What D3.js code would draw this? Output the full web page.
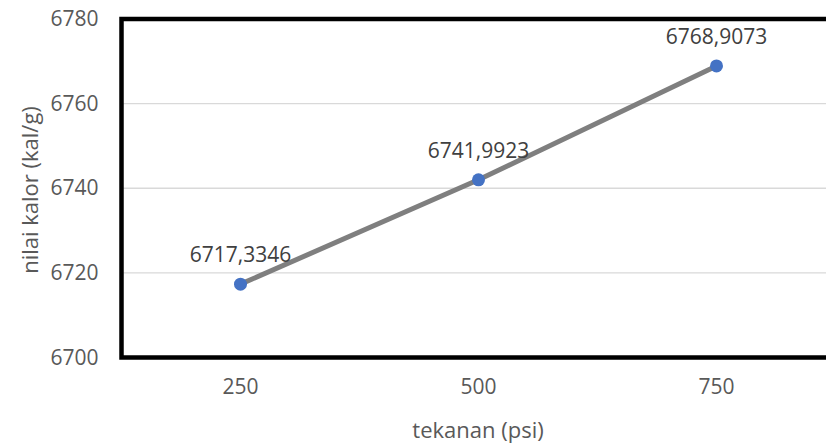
<!DOCTYPE html>
<html><head><meta charset="utf-8">
<script src="https://cdn.jsdelivr.net/npm/d3@7"></script>
<style>body{margin:0;background:#fff}svg{display:block}text{font-family:"Open Sans",sans-serif}</style>
</head><body>
<svg id="c" width="826" height="444"></svg>
<script>
const categories = ["250", "500", "750"];
const values = [6717.3346, 6741.9923, 6768.9073];
const labels = ["6717,3346", "6741,9923", "6768,9073"];
const yTicks = [6700, 6720, 6740, 6760, 6780];
const xTitle = "tekanan (psi)";
const yTitle = "nilai kalor (kal/g)";

const svg = d3.select("#c");
const L = 121.5, T = 19, B = 357.5, R = 835.5;
const x = d3.scaleBand().domain(categories).range([L, R]);
const y = d3.scaleLinear().domain([6700, 6780]).range([B, T]);

// gridlines
svg.append("g").selectAll("line").data(yTicks.slice(1, -1)).join("line")
  .attr("x1", L).attr("x2", R).attr("y1", d => y(d)).attr("y2", d => y(d))
  .attr("stroke", "#d9d9d9").attr("stroke-width", 1.3);

// y axis labels
const ya = svg.append("g").attr("transform", `translate(${L},0)`)
  .call(d3.axisLeft(y).tickValues(yTicks).tickSize(0).tickPadding(23).tickFormat(d3.format("d")));
ya.select(".domain").remove();
ya.selectAll("text").attr("fill", "#595959").style("font-size", "21px").style("font-family", '"Open Sans",sans-serif');

// x axis labels
const xa = svg.append("g").attr("transform", `translate(0,${B})`)
  .call(d3.axisBottom(x).tickSize(0).tickPadding(22));
xa.select(".domain").remove();
xa.selectAll("text").attr("fill", "#595959").style("font-size", "21px").style("font-family", '"Open Sans",sans-serif');

// border
svg.append("path")
  .attr("d", `M${R},${T}H${L}V${B}H${R}`)
  .attr("fill", "none").attr("stroke", "#000").attr("stroke-width", 4.5);

// line
const pts = categories.map((c, i) => [x(c) + x.bandwidth() / 2, y(values[i])]);
svg.append("path").attr("d", d3.line()(pts))
  .attr("fill", "none").attr("stroke", "#7f7f7f").attr("stroke-width", 5).attr("stroke-linecap", "round");

svg.append("g").selectAll("circle").data(pts).join("circle")
  .attr("cx", d => d[0]).attr("cy", d => d[1]).attr("r", 6.5).attr("fill", "#4472c4");

svg.append("g").selectAll("text").data(pts).join("text")
  .attr("x", d => d[0]).attr("y", d => d[1] - 22)
  .attr("text-anchor", "middle").attr("fill", "#404040").style("font-size", "21px")
  .text((d, i) => labels[i]);

svg.append("text").attr("x", 478).attr("y", 438).attr("text-anchor", "middle")
  .attr("fill", "#595959").style("font-size", "22px").text(xTitle);
svg.append("text").attr("transform", "translate(38,190) rotate(-90)").attr("text-anchor", "middle")
  .attr("fill", "#595959").style("font-size", "22px").text(yTitle);
</script>
</body></html>
